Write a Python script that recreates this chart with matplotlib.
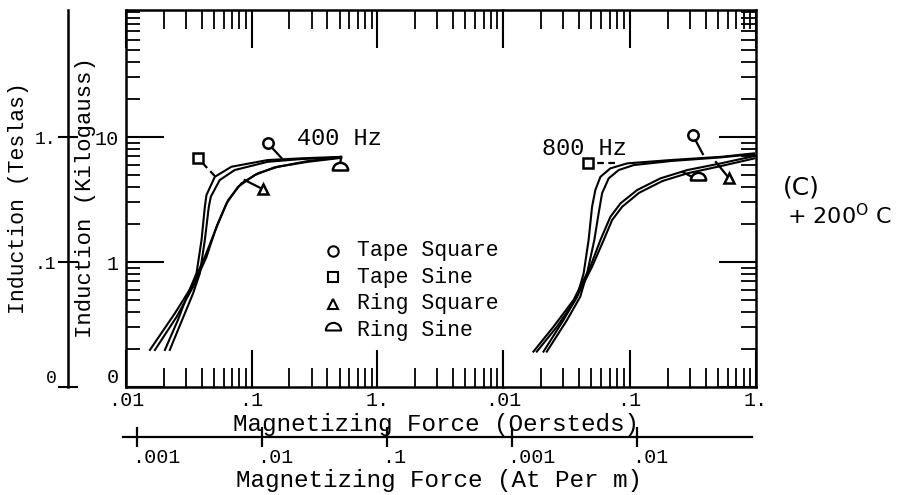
import matplotlib
matplotlib.use('Agg')
import matplotlib.pyplot as plt
import matplotlib.transforms as mtransforms
import numpy as np
from matplotlib.path import Path
from matplotlib.ticker import FixedLocator, NullLocator, NullFormatter

# ---------------- data (H in Oersteds, B in kilogauss) ----------------
# 400 Hz
h400_tape_square = [0.0223, 0.0342, 0.0387, 0.0424, 0.0456, 0.0473, 0.0557, 0.0733, 0.134, 0.248, 0.515]
b400_tape_square = [0.198, 0.562, 0.813, 1.50, 2.77, 3.33, 4.53, 5.45, 6.34, 6.67, 6.88]
h400_tape_sine = [0.0204, 0.0259, 0.0312, 0.0364, 0.0399, 0.0424, 0.0437, 0.0509, 0.0690, 0.134, 0.248, 0.515]
b400_tape_sine = [0.198, 0.344, 0.562, 0.813, 1.50, 2.77, 3.44, 4.81, 5.79, 6.55, 6.76, 6.95]
h400_ring_square = [0.0155, 0.0245, 0.0332, 0.0424, 0.0541, 0.0649, 0.0828, 0.112, 0.162, 0.280, 0.515]
b400_ring_square = [0.198, 0.389, 0.634, 1.10, 2.04, 3.13, 4.26, 5.13, 5.79, 6.43, 6.88]
h400_ring_sine = [0.0170, 0.0253, 0.0342, 0.0437, 0.0525, 0.0630, 0.0778, 0.106, 0.152, 0.280, 0.515]
b400_ring_sine = [0.198, 0.365, 0.634, 1.10, 1.92, 2.94, 4.00, 4.97, 5.73, 6.34, 6.82]

# 800 Hz
h800_tape_sine = [0.0209, 0.0301, 0.0385, 0.0434, 0.0475, 0.0506, 0.0537, 0.0589, 0.0706, 0.0959, 0.211, 0.527, 0.964]
b800_tape_sine = [0.192, 0.344, 0.528, 0.813, 1.50, 2.77, 3.77, 4.81, 5.62, 6.16, 6.55, 6.95, 7.41]
h800_tape_square = [0.0222, 0.0321, 0.0408, 0.0462, 0.0527, 0.0570, 0.0607, 0.0685, 0.0822, 0.108, 0.211, 0.527, 0.970]
b800_tape_square = [0.192, 0.344, 0.528, 0.813, 1.50, 2.45, 3.55, 4.68, 5.45, 5.97, 6.43, 6.88, 7.31]
h800_ring_square = [0.0174, 0.0251, 0.0361, 0.0490, 0.0589, 0.0706, 0.0849, 0.115, 0.176, 0.287, 0.527, 0.970]
b800_ring_square = [0.192, 0.304, 0.497, 0.917, 1.50, 2.30, 2.95, 3.77, 4.68, 5.45, 6.16, 7.05]
h800_ring_sine = [0.0185, 0.0267, 0.0373, 0.0506, 0.0625, 0.0729, 0.0875, 0.119, 0.182, 0.287, 0.527, 0.970]
b800_ring_sine = [0.192, 0.304, 0.497, 0.917, 1.50, 2.17, 2.77, 3.58, 4.45, 5.13, 5.86, 6.75]

oe_ticks_left = [0.01, 0.1, 1, 10]
oe_labels_left = ['.01', '.1', '1.', '']
oe_ticks_right = [0.01, 0.1, 1]
oe_labels_right = ['.01', '.1', '1.']
kg_ticks = [0.1, 1, 10]
kg_labels = ['0', '1', '10']
t_labels = ['0', '.1', '1.']
atm_ticks = [0.001, 0.01, 0.1, 1, 10]
atm_labels = ['.001', '.01', '.1', '.001', '.01']
legend_names = ['Tape Square', 'Tape Sine', 'Ring Square', 'Ring Sine']

MONO = ['Liberation Mono', 'DejaVu Sans Mono']
HALF = Path.wedge(0, 180)
marker_for = {'Tape Square': 'o', 'Tape Sine': 's', 'Ring Square': '^', 'Ring Sine': HALF}
marker_size = {'Tape Square': 7.5, 'Tape Sine': 7, 'Ring Square': 7.5, 'Ring Sine': 11}

plt.rcParams['font.family'] = MONO
TICKFS = 14.5

fig = plt.figure(figsize=(9.05, 4.95), dpi=100)
W, H = 905.0, 495.0
bot = 1 - 387 / H
hgt = (387 - 10) / H
ax1 = fig.add_axes([126 / W, bot, 377 / W, hgt])
ax2 = fig.add_axes([503 / W, bot, 253 / W, hgt])

minor_y = [m * 10.0 ** e for e in (-1, 0, 1) for m in range(2, 10)] + [100]
for ax, xl in ((ax1, (0.01, 10)), (ax2, (0.01, 1))):
    ax.set_xscale('log')
    ax.set_yscale('log')
    ax.set_xlim(*xl)
    ax.set_ylim(0.1, 104)
    ax.xaxis.set_minor_locator(FixedLocator([m * 10.0 ** e for e in (-2, -1, 0) for m in range(2, 10)]))
    ax.xaxis.set_minor_formatter(NullFormatter())
    ax.yaxis.set_minor_locator(FixedLocator(minor_y))
    ax.yaxis.set_minor_formatter(NullFormatter())
    for s in ax.spines.values():
        s.set_linewidth(1.8)
    ax.tick_params(axis='x', which='major', direction='in', length=27, width=1.5,
                   top=True, bottom=True, pad=3)
    ax.tick_params(axis='x', which='minor', direction='in', length=14, width=1.3,
                   top=True, bottom=True)

ax1.spines['right'].set_visible(False)
ax2.spines['left'].set_visible(False)
ax1.set_xticks(oe_ticks_left)
ax1.set_xticklabels(oe_labels_left, fontsize=TICKFS)
ax2.set_xticks(oe_ticks_right)
ax2.set_xticklabels(oe_labels_right, fontsize=TICKFS)
ax1.set_yticks(kg_ticks)
ax1.set_yticklabels(kg_labels, fontsize=TICKFS)
ax2.set_yticks(kg_ticks)
ax1.tick_params(axis='y', which='major', direction='in', length=27, width=1.5,
                left=True, right=False, pad=5)
ax1.tick_params(axis='y', which='minor', direction='in', length=10, width=1.3,
                left=True, right=False)
ax2.tick_params(axis='y', which='major', direction='in', length=27, width=1.5,
                left=False, right=True, labelleft=False, labelright=False)
ax2.tick_params(axis='y', which='minor', direction='in', length=11, width=1.3,
                left=False, right=True)
ax1.get_yticklabels()[0].set_verticalalignment('bottom')

lw = 1.5
ax1.plot(h400_tape_square, b400_tape_square, color='k', lw=lw)
ax1.plot(h400_tape_sine, b400_tape_sine, color='k', lw=lw)
ax1.plot(h400_ring_square, b400_ring_square, color='k', lw=lw)
ax1.plot(h400_ring_sine, b400_ring_sine, color='k', lw=lw)
ax2.plot(h800_tape_square, b800_tape_square, color='k', lw=lw)
ax2.plot(h800_tape_sine, b800_tape_sine, color='k', lw=lw)
ax2.plot(h800_ring_square, b800_ring_square, color='k', lw=lw)
ax2.plot(h800_ring_sine, b800_ring_sine, color='k', lw=lw)


def tag(ax, curve_pt, mark_pt, name, dashed=False):
    ax.plot([curve_pt[0], mark_pt[0]], [curve_pt[1], mark_pt[1]], color='k', lw=1.6,
            ls=(0, (3, 2)) if dashed else '-', zorder=3)
    ax.plot([mark_pt[0]], [mark_pt[1]], marker=marker_for[name], ms=marker_size[name],
            mfc='white', mec='k', mew=1.8, zorder=4, ls='none')


# curve tags, 400 Hz
tag(ax1, (0.173, 6.79), (0.134, 8.96), 'Tape Square')
tag(ax1, (0.0509, 4.88), (0.0373, 6.79), 'Tape Sine', dashed=True)
tag(ax1, (0.088, 4.53), (0.122, 3.84), 'Ring Square')
tag(ax1, (0.515, 6.95), (0.50, 5.45), 'Ring Sine')
# curve tags, 800 Hz
tag(ax2, (0.380, 7.31), (0.316, 10.4), 'Tape Square')
tag(ax2, (0.0774, 6.19), (0.0473, 6.19), 'Tape Sine', dashed=True)
tag(ax2, (0.482, 6.31), (0.611, 4.70), 'Ring Square')
tag(ax2, (0.264, 5.25), (0.347, 4.53), 'Ring Sine')

# legend
for i, name in enumerate(legend_names):
    yy = 0.361 - i * 0.07
    ax1.plot([0.549], [yy], marker=marker_for[name], ms=marker_size[name], mfc='white',
             mec='k', mew=1.5, transform=ax1.transAxes, clip_on=False, ls='none')
    ax1.text(0.613, yy, name, transform=ax1.transAxes, fontsize=15.5, va='center', ha='left')

ax1.text(0.454, 0.66, '400 Hz', transform=ax1.transAxes, fontsize=17, va='center', ha='left')
ax2.text(0.154, 0.633, '800 Hz', transform=ax2.transAxes, fontsize=17, va='center', ha='left')

# Tesla axis
axt = fig.add_axes([68 / W, bot, 0.0005, hgt])
axt.set_yscale('log')
axt.set_ylim(0.1, 104)
axt.patch.set_visible(False)
for k in ('top', 'right', 'bottom'):
    axt.spines[k].set_visible(False)
axt.spines['left'].set_linewidth(1.8)
axt.set_xticks([])
axt.set_yticks(kg_ticks)
axt.set_yticklabels(t_labels, fontsize=13)
axt.yaxis.set_minor_locator(NullLocator())
axt.tick_params(axis='y', which='major', direction='inout', length=15, width=1.5, pad=1)
axt.get_yticklabels()[0].set_verticalalignment('bottom')

# At per m axis
axb = fig.add_axes([123 / W, 1 - 437 / H, 629 / W, 0.0005])
axb.set_xscale('log')
axb.set_xlim(0.00077, 83)
axb.patch.set_visible(False)
for k in ('top', 'right', 'left'):
    axb.spines[k].set_visible(False)
axb.spines['bottom'].set_linewidth(1.6)
axb.set_yticks([])
axb.set_xticks(atm_ticks)
axb.set_xticklabels(atm_labels, fontsize=TICKFS)
axb.xaxis.set_minor_locator(NullLocator())
axb.tick_params(axis='x', which='major', direction='inout', length=14, width=1.6, pad=1)
off = mtransforms.ScaledTranslation(-0.05, 0, fig.dpi_scale_trans)
for t in axb.get_xticklabels():
    t.set_horizontalalignment('left')
    t.set_transform(t.get_transform() + off)

fig.text(19 / W, 0.6, 'Induction (Teslas)', rotation=90, ha='center', va='center', fontsize=15.5)
fig.text(86 / W, 0.6, 'Induction (Kilogauss)', rotation=90, ha='center', va='center', fontsize=16)
fig.text(436 / W, 1 - 425 / H, 'Magnetizing Force (Oersteds)', ha='center', va='center', fontsize=17.5)
fig.text(439 / W, 1 - 480 / H, 'Magnetizing Force (At Per m)', ha='center', va='center', fontsize=17.5)
fig.text(783 / W, 1 - 188 / H, '(C)', ha='left', va='center', fontsize=18, family=['DejaVu Sans'])
fig.text(787 / W, 1 - 216 / H, '+ 200$^{\\mathrm{O}}$ C', ha='left', va='center', fontsize=16,
         family=['DejaVu Sans'])

fig.savefig('out.png', dpi=100)
